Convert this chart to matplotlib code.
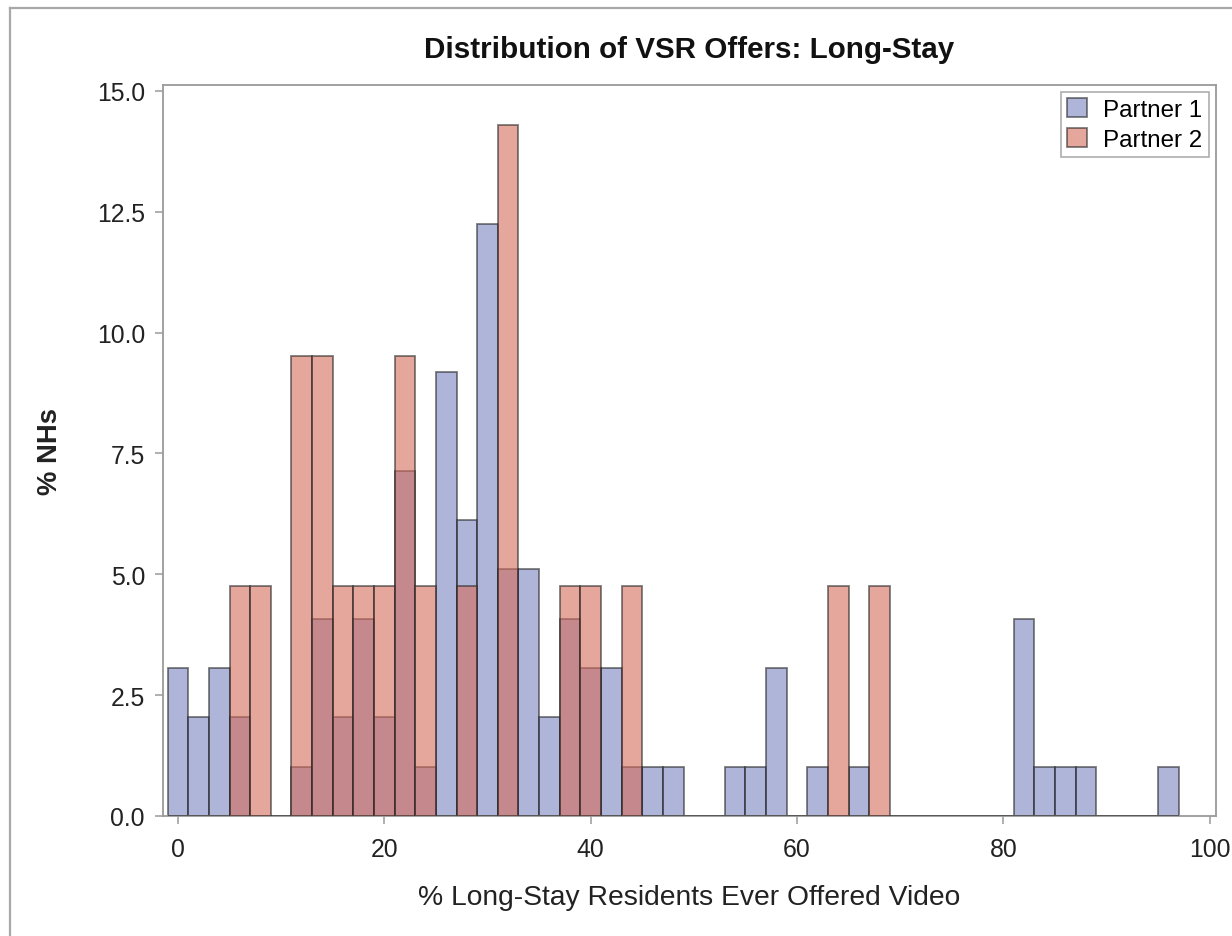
import matplotlib
matplotlib.use("Agg")
import matplotlib.pyplot as plt
from matplotlib.lines import Line2D
from matplotlib.patches import Patch

plt.rcParams['font.family'] = ['Liberation Sans', 'DejaVu Sans']

# Histogram bins (centers, width 2)
bin_centers = list(range(0, 98, 2))
bin_width = 2

# % of NHs per bin
partner1 = [3.06, 2.04, 3.06, 2.04, 0, 0, 1.02, 4.08, 2.04, 4.08,
            2.04, 7.14, 1.02, 9.18, 6.12, 12.24, 5.10, 5.10, 2.04, 4.08,
            3.06, 3.06, 1.02, 1.02, 1.02, 0, 0, 1.02, 1.02, 3.06,
            0, 1.02, 0, 1.02, 0, 0, 0, 0, 0, 0,
            0, 4.08, 1.02, 1.02, 1.02, 0, 0, 0, 1.02]
partner2 = [0, 0, 0, 4.76, 4.76, 0, 9.52, 9.52, 4.76, 4.76,
            4.76, 9.52, 4.76, 0, 4.76, 0, 14.29, 0, 0, 4.76,
            4.76, 0, 4.76, 0, 0, 0, 0, 0, 0, 0,
            0, 0, 4.76, 0, 4.76, 0, 0, 0, 0, 0,
            0, 0, 0, 0, 0, 0, 0, 0, 0]

series_names = ["Partner 1", "Partner 2"]
title = "Distribution of VSR Offers: Long-Stay"
xlabel = "% Long-Stay Residents Ever Offered Video"
ylabel = "% NHs"
xticks = [0, 20, 40, 60, 80, 100]
yticks = [0.0, 2.5, 5.0, 7.5, 10.0, 12.5, 15.0]

blue = (0.478, 0.518, 0.745)
red = (0.835, 0.420, 0.353)
alpha = 0.6
edge = (0.15, 0.15, 0.15, 0.75)
grey = "#9a9a9a"

W, H = 1232, 937
fig = plt.figure(figsize=(W / 100, H / 100), dpi=100)
ax = fig.add_axes([163 / W, 1 - 817 / H, (1216 - 163) / W, (817 - 86) / H])

ax.bar(bin_centers, partner1, width=bin_width, color=blue, alpha=alpha,
       edgecolor=edge, linewidth=1.3, label=series_names[0], zorder=2)
ax.bar(bin_centers, partner2, width=bin_width, color=red, alpha=alpha,
       edgecolor=edge, linewidth=1.3, label=series_names[1], zorder=3)

ax.set_xlim(-1.45, 100.6)
ax.set_ylim(0, 15.12)
ax.set_xticks(xticks)
ax.set_xticklabels([str(v) for v in xticks])
ax.set_yticks(yticks)
ax.set_yticklabels([f"{v:.1f}" for v in yticks])

for s in ax.spines.values():
    s.set_color(grey)
    s.set_linewidth(1.3)
ax.tick_params(axis='both', direction='out', length=6, width=1.1, color=grey,
               labelsize=17.8, labelcolor="#222222", pad=7)
ax.tick_params(axis='x', pad=9)

ax.set_title(title, fontsize=21.3, fontweight='bold', pad=20, color="#111111")
ax.set_xlabel(xlabel, fontsize=20.3, labelpad=17, color="#222222")
ax.set_ylabel(ylabel, fontsize=19.8, fontweight='bold', labelpad=24, color="#222222")

handles = [Patch(facecolor=blue, alpha=alpha, edgecolor=(0.15, 0.15, 0.15), linewidth=1.3),
           Patch(facecolor=red, alpha=alpha, edgecolor=(0.15, 0.15, 0.15), linewidth=1.3)]
leg = ax.legend(handles, series_names, loc='upper right', fontsize=17.4,
                frameon=True, fancybox=False, borderpad=0.25, labelspacing=0.3,
                handlelength=0.8, handleheight=0.8, handletextpad=0.7,
                borderaxespad=0.3)
leg.get_frame().set_edgecolor(grey)
leg.get_frame().set_linewidth(1.2)

# outer frame of the graph
fig.add_artist(Line2D([10 / W, 10 / W], [0, 1 - 9 / H], color="#a8a8a8", linewidth=1.6,
                      transform=fig.transFigure))
fig.add_artist(Line2D([10 / W, 1], [1 - 9 / H, 1 - 9 / H], color="#a8a8a8", linewidth=1.6,
                      transform=fig.transFigure))

fig.savefig("out.png", dpi=100)
